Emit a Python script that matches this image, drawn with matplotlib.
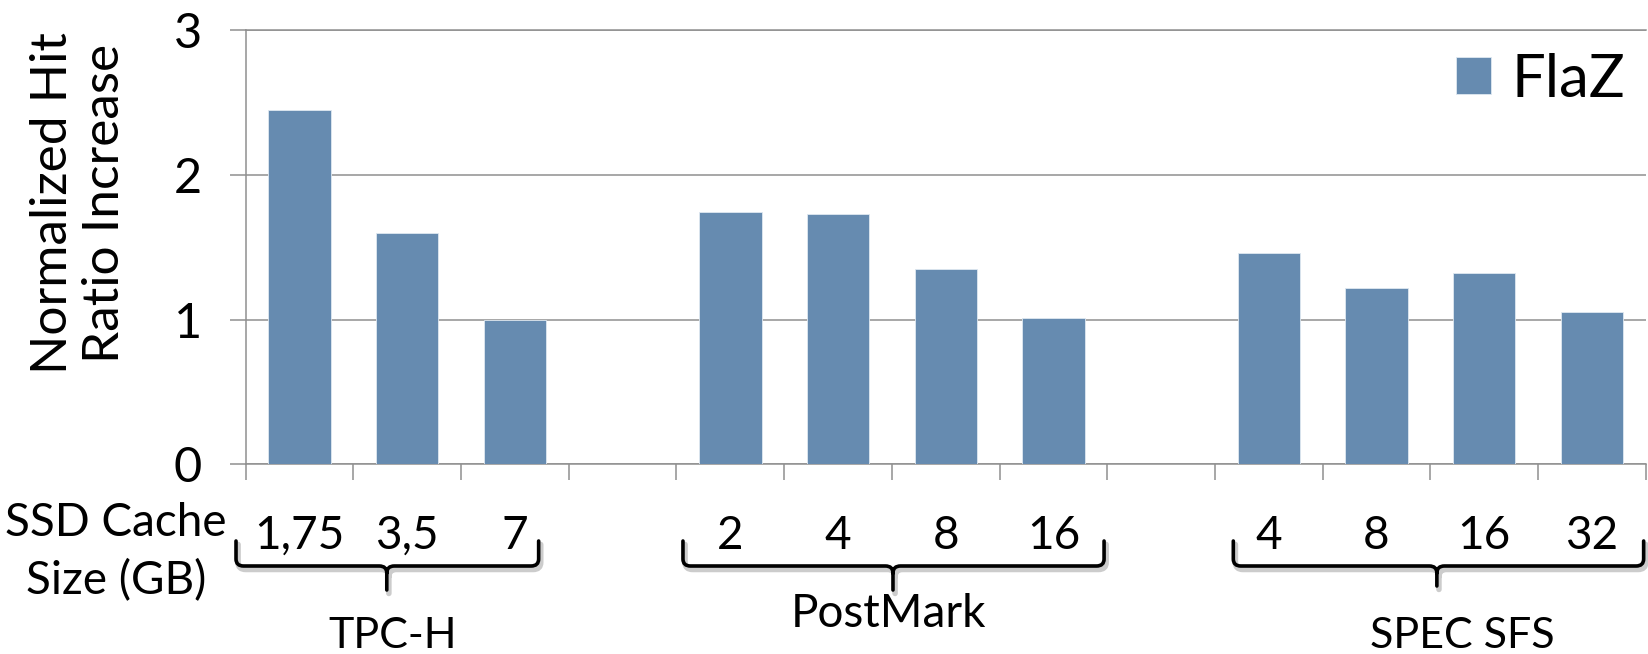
import matplotlib
matplotlib.use("Agg")
import matplotlib.pyplot as plt
import matplotlib.transforms as mtransforms
import matplotlib.patheffects as pe
from matplotlib.path import Path
from matplotlib.patches import PathPatch

plt.rcParams['font.family'] = ['Lato', 'DejaVu Sans']

# Benchmarks and the SSD cache sizes (GB) evaluated for each
groups = ["TPC-H", "PostMark", "SPEC SFS"]
tpch_sizes = ["1,75", "3,5", "7"]
postmark_sizes = ["2", "4", "8", "16"]
specsfs_sizes = ["4", "8", "16", "32"]

# Normalized hit-ratio increase of FlaZ
tpch_values = [2.45, 1.60, 1.00]
postmark_values = [1.74, 1.73, 1.35, 1.01]
specsfs_values = [1.46, 1.22, 1.32, 1.05]

series_name = "FlaZ"
y_label = "Normalized Hit\nRatio Increase"
x_label = "SSD Cache\nSize (GB)"
y_ticks = [0, 1, 2, 3]

BAR_COLOR = "#668bb0"
GRID_COLOR = "#8f8f8f"
W, H = 1649, 654

fig = plt.figure(figsize=(W / 100, H / 100), dpi=100)
ax_left, ax_right, ax_top, ax_bottom = 245.7, 1645.8, 30.0, 464.3
ax = fig.add_axes([ax_left / W, 1 - ax_bottom / H,
                   (ax_right - ax_left) / W, (ax_bottom - ax_top) / H])

# one slot per bar, with an empty slot between benchmarks
positions, values, labels = [], [], []
slot = 0
for sizes, vals in [(tpch_sizes, tpch_values),
                    (postmark_sizes, postmark_values),
                    (specsfs_sizes, specsfs_values)]:
    for s, v in zip(sizes, vals):
        positions.append(slot)
        values.append(v)
        labels.append(s)
        slot += 1
    slot += 1
n_slots = slot - 1

bars = ax.bar(positions, values, width=0.58, color=BAR_COLOR,
              edgecolor="#dfe8f1", linewidth=0.6, label=series_name, zorder=3)

ax.set_xlim(-0.5, n_slots - 0.5)
ax.set_ylim(0, 3)
ax.set_yticks(y_ticks)
ax.set_yticklabels([str(t) for t in y_ticks], fontsize=35)
ax.set_xticks([i - 0.5 for i in range(n_slots + 1)])
ax.set_xticklabels([])
ax.tick_params(axis="both", color=GRID_COLOR, width=1.1, length=11.5,
               direction="out")
ax.tick_params(axis="y", pad=20)
ax.yaxis.grid(True, color=GRID_COLOR, linewidth=1.1, zorder=0)
ax.set_axisbelow(True)
for side in ("left", "bottom", "top"):
    ax.spines[side].set_color(GRID_COLOR)
    ax.spines[side].set_linewidth(1.1)
ax.spines["right"].set_visible(False)


def fy(py):
    return 1 - py / H


def fx(px):
    return px / W


# y-axis title
fig.text(fx(79), fy(203), y_label, rotation=90, ha="center", va="center",
         multialignment="center", fontsize=37, linespacing=1.15)

# category axis title
fig.text(fx(116), fy(552), x_label, ha="center", va="center",
         multialignment="center", fontsize=33, linespacing=1.45)

blend = mtransforms.blended_transform_factory(ax.transData, fig.transFigure)

# cache size under each bar
for p, lab in zip(positions, labels):
    ax.text(p, fy(536), lab, transform=blend, ha="center", va="center",
            fontsize=33, clip_on=False)


def brace(x_left, x_right, x_tip, y_end, y_bar, y_tip):
    rx, ry = 0.07, 7 / H
    verts = [(x_left, y_end), (x_left, y_bar + ry), (x_left, y_bar),
             (x_left + rx, y_bar), (x_tip - rx, y_bar), (x_tip, y_bar),
             (x_tip, y_bar - ry), (x_tip, y_tip),
             (x_tip, y_bar - ry), (x_tip, y_bar), (x_tip + rx, y_bar),
             (x_right - rx, y_bar), (x_right, y_bar), (x_right, y_bar + ry),
             (x_right, y_end)]
    codes = [Path.MOVETO, Path.LINETO, Path.CURVE3, Path.CURVE3, Path.LINETO,
             Path.CURVE3, Path.CURVE3, Path.LINETO,
             Path.MOVETO, Path.CURVE3, Path.CURVE3, Path.LINETO,
             Path.CURVE3, Path.CURVE3, Path.LINETO]
    patch = PathPatch(Path(verts, codes), transform=blend, fill=False,
                      edgecolor="black", linewidth=2.6, clip_on=False,
                      capstyle="round", joinstyle="round")
    patch.set_path_effects([pe.SimpleLineShadow(offset=(1.5, -2.5),
                                                shadow_color="black",
                                                alpha=0.2, linewidth=4),
                            pe.Normal()])
    ax.add_patch(patch)


# braces grouping the sizes of each benchmark, and benchmark names
brace_specs = [(-0.59, 2.22, 0.81, 590), (3.56, 7.47, 5.51, 590),
               (8.67, 12.48, 10.56, 586)]
name_specs = [(0.86, 636, 31), (5.47, 614, 33), (10.80, 636, 31)]
for (xl, xr, xt, ytip), (nx, ny, fs), name in zip(brace_specs, name_specs, groups):
    brace(xl, xr, xt, fy(541), fy(566), fy(ytip))
    ax.text(nx, fy(ny), name, transform=blend, ha="center", va="center",
            fontsize=fs, clip_on=False)

leg = ax.legend(handles=[bars], labels=[series_name], loc="center left",
                bbox_to_anchor=(fx(1456), fy(80)), bbox_transform=fig.transFigure,
                frameon=False, fontsize=43, handlelength=0.58,
                handleheight=0.58, handletextpad=0.35, borderpad=0,
                borderaxespad=0)

fig.savefig("out.png", dpi=100)
